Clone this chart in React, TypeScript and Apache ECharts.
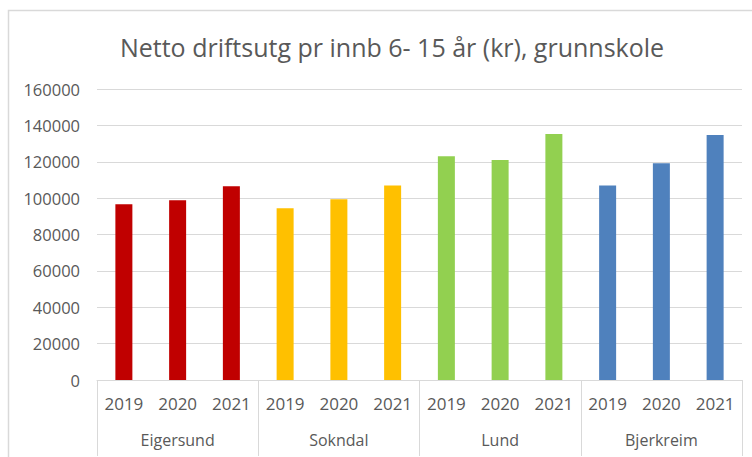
import React, { useEffect, useRef } from "react";
import * as echarts from "echarts";

const title = "Netto driftsutg pr innb 6- 15 år (kr), grunnskole";
const groups = ["Eigersund", "Sokndal", "Lund", "Bjerkreim"];
const years = ["2019", "2020", "2021"];
const eigersund = [96600, 98800, 106500];
const sokndal = [94400, 99400, 107000];
const lund = [123000, 121000, 135200];
const bjerkreim = [107000, 119200, 134700];
const groupColors = ["#C00000", "#FFC000", "#92D050", "#4F81BD"];
const yTicks = { min: 0, max: 160000, interval: 20000 };

export default function App() {
  const ref = useRef<HTMLDivElement>(null);
  useEffect(() => {
    if (!ref.current) return;
    const chart = echarts.init(ref.current, undefined, { renderer: "svg" });
    const groupValues = [eigersund, sokndal, lund, bjerkreim];
    const cats: string[] = [];
    const data: any[] = [];
    groupValues.forEach((vals, gi) => {
      vals.forEach((v, yi) => {
        cats.push(years[yi]);
        data.push({ value: v, itemStyle: { color: groupColors[gi] } });
      });
    });
    const font = "'Open Sans', sans-serif";
    const textColor = "#595959";
    const lineColor = "#d9d9d9";
    chart.setOption({
      animation: false,
      backgroundColor: "#ffffff",
      textStyle: { fontFamily: font },
      title: {
        text: title,
        left: 387,
        top: 29,
        textAlign: "center",
        textStyle: { fontFamily: font, fontSize: 25, fontWeight: "normal", color: textColor },
      },
      graphic: [
        {
          type: "rect",
          shape: { x: 8.5, y: 10.5, width: 780, height: 480 },
          style: { fill: "none", stroke: lineColor, lineWidth: 1.5 },
          silent: true,
        },
      ],
      grid: { left: 97, right: 10, top: 89, bottom: 77, containLabel: false },
      xAxis: [
        {
          type: "category",
          data: cats,
          position: "bottom",
          axisLine: { show: false },
          axisTick: { show: false },
          axisLabel: { color: textColor, fontSize: 17, margin: 15, interval: 0, fontFamily: font },
        },
        {
          type: "category",
          data: groups,
          position: "bottom",
          axisLine: { show: true, lineStyle: { color: lineColor, width: 1 } },
          axisTick: { show: true, length: 76, interval: 0, lineStyle: { color: lineColor, width: 1 } },
          axisLabel: { color: textColor, fontSize: 16, margin: 52, interval: 0, fontFamily: font },
          splitLine: { show: false },
        },
      ],
      yAxis: {
        type: "value",
        min: yTicks.min,
        max: yTicks.max,
        interval: yTicks.interval,
        axisLine: { show: false },
        axisTick: { show: false },
        axisLabel: {
          color: textColor,
          fontSize: 16.5,
          margin: 17,
          fontFamily: font,
          formatter: (v: number) => String(v),
        },
        splitLine: { lineStyle: { color: lineColor, width: 1 } },
      },
      series: [
        {
          type: "bar",
          xAxisIndex: 0,
          data,
          barWidth: 17,
        },
      ],
    });
    return () => chart.dispose();
  }, []);
  return (
    <div
      ref={ref}
      style={{ position: "fixed", left: 0, top: 0, width: 752, height: 457, background: "#fff" }}
    />
  );
}
